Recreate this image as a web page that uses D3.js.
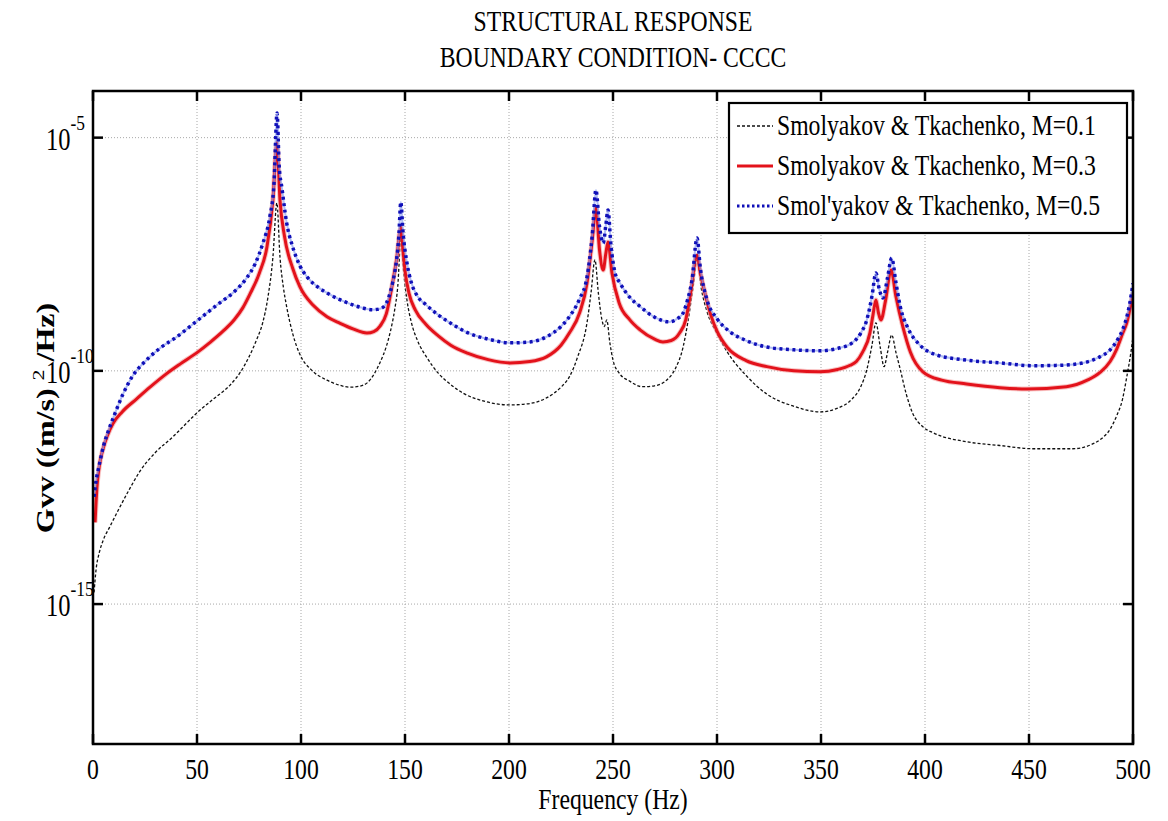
<html>
<head>
<style>
    body { margin: 0; background: #ffffff; }
    svg { display: block; }
    text { font-family: "Liberation Serif", "Times New Roman", serif; fill: #000; }
</style>
<script src="https://cdn.jsdelivr.net/npm/d3@7"></script>
</head>
<body>
<svg id="grafico"></svg>
<script>
// frequency axis ticks (Hz) and the decades that carry a label
const frecuenciaTicks = [0, 50, 100, 150, 200, 250, 300, 350, 400, 450, 500];
const decadaTicks = [-5, -10, -15];

const titulo = ["STRUCTURAL RESPONSE", "BOUNDARY CONDITION- CCCC"];
const etiquetas = ["Smolyakov & Tkachenko, M=0.1", "Smolyakov & Tkachenko, M=0.3", "Smol'yakov & Tkachenko, M=0.5"];

// Gvv, stored as log10(Gvv), one pair [Hz, log10] per point
const log10GvvM01 = [
    [0.5, -14.75], [1.5, -14.25], [3, -13.9], [5, -13.62], [8, -13.35], [12, -13.0], [17, -12.58],
    [22.6, -12.15], [30, -11.75], [38.5, -11.41], [45, -11.12], [50, -10.9], [58, -10.6], [66, -10.3],
    [71, -10.02], [75, -9.7], [78.5, -9.35], [81.7, -8.95], [84, -8.45], [86.5, -7.56], [88.4, -6.4],
    [89.9, -7.56], [91.5, -8.2], [93, -8.6], [96, -9.2], [99.5, -9.65], [105, -9.98], [112.5, -10.2],
    [118, -10.3], [123.6, -10.35], [128, -10.33], [132, -10.25], [135, -10.08], [138, -9.82], [141, -9.48],
    [143, -9.15], [145, -8.7], [146.5, -8.2], [148, -7.2], [149.5, -7.95], [151, -8.5], [153, -8.95],
    [156, -9.35], [160.6, -9.72], [166, -10.05], [171.6, -10.28], [178, -10.48], [188, -10.65], [200.5, -10.73],
    [210, -10.7], [218, -10.58], [225, -10.35], [229, -10.13], [233, -9.7], [237.5, -8.97], [239.5, -8.3],
    [241.3, -7.62], [243, -8.35], [244.7, -8.91], [245.8, -9.05], [247, -8.91], [248.5, -9.4], [250, -9.77],
    [253, -10.05], [258, -10.22], [264, -10.34], [270, -10.32], [276, -10.19], [280, -9.95], [283.7, -9.49],
    [286, -8.95], [288.5, -8.2], [290.4, -7.62], [292.5, -8.25], [295, -8.7], [300, -9.2], [305, -9.6],
    [314, -10.1], [324, -10.5], [337, -10.76], [349.5, -10.88], [358, -10.8], [365, -10.6], [369, -10.35],
    [372, -9.98], [374.5, -9.45], [376.4, -8.97], [378.5, -9.5], [380.3, -9.91], [382, -9.6], [384, -9.23],
    [386, -9.6], [388, -9.95], [391, -10.5], [394, -10.9], [399, -11.2], [404, -11.33], [420, -11.52],
    [436, -11.6], [452, -11.67], [471, -11.67], [480, -11.58], [484, -11.48], [489, -11.25], [492, -10.98],
    [495, -10.6], [497, -10.13], [499, -9.6], [500, -9.27]
];

const log10GvvM03 = [
    [1, -13.25], [1.9, -12.5], [3, -12.05], [4.9, -11.66], [7, -11.38], [9.6, -11.13], [14, -10.88],
    [21, -10.6], [27.4, -10.35], [35.4, -10.06], [42, -9.85], [50, -9.61], [56, -9.4], [62.5, -9.15],
    [68, -8.9], [72, -8.65], [75.5, -8.35], [80, -7.9], [83.6, -7.35], [86.5, -6.34], [88.4, -5.11],
    [89.9, -6.34], [92, -7.1], [96, -7.8], [99.5, -8.2], [106, -8.6], [112.5, -8.84], [118.8, -8.98],
    [125, -9.1], [131.7, -9.19], [135, -9.16], [138, -9.04], [141, -8.78], [144, -8.12], [146, -7.6],
    [148, -6.92], [149, -7.4], [150, -7.85], [152, -8.35], [155, -8.7], [160, -9.0], [166, -9.25],
    [172, -9.45], [180, -9.62], [190, -9.76], [200.5, -9.83], [210, -9.8], [218, -9.7], [225, -9.45],
    [229, -9.19], [234, -8.75], [237.5, -8.12], [240, -7.2], [241.8, -6.51], [243.5, -7.4], [245.3, -7.84],
    [246.5, -7.5], [247.6, -7.24], [249.5, -7.9], [253, -8.55], [258, -8.9], [263, -9.12], [270, -9.32],
    [274, -9.38], [278, -9.35], [282, -9.19], [285, -8.9], [287, -8.42], [290.4, -7.52], [292, -7.9],
    [293.5, -8.2], [297, -8.8], [300, -9.15], [305, -9.5], [314, -9.78], [324, -9.91], [337, -10.0],
    [349.5, -10.02], [358, -9.97], [364, -9.88], [367, -9.8], [370, -9.6], [373.5, -9.19], [375, -8.8],
    [376.4, -8.48], [377.6, -8.75], [378.8, -8.91], [381, -8.5], [383.7, -7.84], [386, -8.4], [389.4, -9.06],
    [393, -9.6], [399, -10.02], [408, -10.2], [420, -10.28], [436, -10.36], [449, -10.39], [468, -10.34],
    [478, -10.2], [484, -10.04], [489, -9.8], [492, -9.55], [495, -9.2], [497, -8.97], [500, -8.33]
];

const log10GvvM05 = [
    [0.5, -12.7], [1.5, -12.35], [3, -12.02], [5, -11.62], [7.5, -11.27], [10.5, -10.92], [14.4, -10.5],
    [19.2, -10.1], [25, -9.8], [32, -9.52], [40, -9.28], [48, -9.0], [55, -8.75], [61, -8.54], [68, -8.3],
    [74, -8.0], [78, -7.7], [81.7, -7.26], [85, -6.7], [87, -6.0], [88.5, -4.47], [89.5, -5.6], [90.9, -6.1],
    [93, -6.8], [96, -7.34], [99.5, -7.75], [103, -7.99], [108, -8.2], [112.5, -8.33], [120, -8.5],
    [128, -8.63], [134.6, -8.69], [138, -8.67], [141, -8.55], [143, -8.3], [144, -8.12], [146, -7.6],
    [147, -7.13], [148, -6.38], [149, -7.0], [151, -7.7], [153, -8.1], [156, -8.4], [160, -8.58],
    [166, -8.8], [172, -8.98], [180, -9.18], [190, -9.32], [200.5, -9.4], [210, -9.38], [218, -9.27],
    [225, -9.05], [229, -8.84], [234, -8.45], [237.5, -7.99], [240, -7.1], [241.8, -6.12], [243.5, -6.9],
    [245.3, -7.26], [246.5, -6.9], [247.6, -6.55], [249, -7.3], [251, -7.9], [253.4, -8.12], [258, -8.42],
    [263, -8.62], [270, -8.85], [277, -8.95], [281, -8.88], [283.7, -8.76], [286, -8.45], [288, -8.05],
    [290.4, -7.15], [292, -7.8], [295, -8.45], [300, -8.88], [305, -9.12], [314, -9.35], [324, -9.49],
    [337, -9.55], [349.5, -9.57], [358, -9.52], [365, -9.4], [369, -9.2], [372, -8.91], [374.5, -8.4],
    [376.4, -7.9], [378, -8.25], [379.8, -8.44], [382, -8.0], [384, -7.58], [386, -8.1], [388, -8.6],
    [392, -9.1], [397.6, -9.45], [405, -9.65], [420, -9.77], [436, -9.83], [452, -9.89], [465, -9.88],
    [476, -9.83], [484, -9.7], [489, -9.55], [493, -9.3], [495, -9.12], [498.5, -8.54], [500, -8.12]
];

const ANCHO = 1168, ALTO = 821;
const SX = 0.79;   // the picture is squeezed sideways, text too

function configuracion() {
    let margenes = { top: 91, bottom: 77, left: 93, right: 35 };
    let contenedor = d3.select("#grafico").attr("width", ANCHO).attr("height", ALTO);
    let anchuraCuerpo = ANCHO - margenes.left - margenes.right;
    let alturaCuerpo = ALTO - margenes.top - margenes.bottom;
    return { margenes, contenedor, anchuraCuerpo, alturaCuerpo };
}

function escalas(conf) {
    let escalaX = d3.scaleLinear().domain([0, 500]).range([conf.margenes.left, conf.margenes.left + conf.anchuraCuerpo]);
    let escalaY = d3.scaleLog().domain([1e-18, 1e-4]).range([conf.margenes.top + conf.alturaCuerpo, conf.margenes.top]);
    return { escalaX, escalaY };
}

// text drawn through a sideways squeeze
function texto(g, x, y, cadena, anchor, size) {
    return g.append("g").attr("transform", `translate(${x},${y}) scale(${SX},1)`)
        .append("text").attr("text-anchor", anchor).style("font-size", size + "px").text(cadena);
}

function dibujarRejilla(conf, esc) {
    let { contenedor, margenes, anchuraCuerpo, alturaCuerpo } = conf;
    let g = contenedor.append("g").attr("stroke", "#a8a8a8").attr("stroke-width", 1).attr("stroke-dasharray", "1,2");
    g.selectAll(".gx").data(frecuenciaTicks.slice(1, -1)).enter().append("line")
        .attr("x1", d => esc.escalaX(d)).attr("x2", d => esc.escalaX(d))
        .attr("y1", margenes.top).attr("y2", margenes.top + alturaCuerpo);
    g.selectAll(".gy").data(decadaTicks).enter().append("line")
        .attr("x1", margenes.left).attr("x2", margenes.left + anchuraCuerpo)
        .attr("y1", d => esc.escalaY(Math.pow(10, d))).attr("y2", d => esc.escalaY(Math.pow(10, d)));
}

function dibujarCurvas(conf, esc) {
    let { contenedor, margenes, anchuraCuerpo, alturaCuerpo } = conf;
    contenedor.append("clipPath").attr("id", "recorte").append("rect")
        .attr("x", margenes.left).attr("y", margenes.top).attr("width", anchuraCuerpo).attr("height", alturaCuerpo);
    let linea = d3.line()
        .x(d => esc.escalaX(d[0]))
        .y(d => esc.escalaY(Math.pow(10, d[1])))
        .curve(d3.curveMonotoneX);
    let g = contenedor.append("g").attr("clip-path", "url(#recorte)").attr("fill", "none");

    g.append("path").attr("d", linea(log10GvvM01))
        .attr("stroke", "#111").attr("stroke-width", 1.3).attr("stroke-dasharray", "3,2");
    g.append("path").attr("d", linea(log10GvvM03))
        .attr("stroke", "#f39a9a").attr("stroke-width", 5).attr("opacity", 0.6);
    g.append("path").attr("d", linea(log10GvvM03))
        .attr("stroke", "#e3121b").attr("stroke-width", 3);
    g.append("path").attr("d", linea(log10GvvM05))
        .attr("stroke", "#8fa0f0").attr("stroke-width", 2).attr("opacity", 0.7);
    g.append("path").attr("d", linea(log10GvvM05))
        .attr("stroke", "#1010b8").attr("stroke-width", 3.5).attr("stroke-dasharray", "3,3.5");
}

function dibujarEjes(conf, esc) {
    let { contenedor, margenes, anchuraCuerpo, alturaCuerpo } = conf;
    let izq = margenes.left, der = izq + anchuraCuerpo, arriba = margenes.top, abajo = arriba + alturaCuerpo;
    let g = contenedor.append("g");
    let largo = 10;

    g.append("rect").attr("x", izq).attr("y", arriba).attr("width", anchuraCuerpo).attr("height", alturaCuerpo)
        .attr("fill", "none").attr("stroke", "#000").attr("stroke-width", 2.5);

    let marcas = g.append("g").attr("stroke", "#000").attr("stroke-width", 2.5);
    frecuenciaTicks.forEach(f => {
        let x = esc.escalaX(f);
        marcas.append("line").attr("x1", x).attr("x2", x).attr("y1", abajo).attr("y2", abajo - largo);
        marcas.append("line").attr("x1", x).attr("x2", x).attr("y1", arriba).attr("y2", arriba + largo);
        texto(g, x, 779, String(f), "middle", 30);
    });
    decadaTicks.forEach(e => {
        let y = esc.escalaY(Math.pow(10, e));
        marcas.append("line").attr("x1", izq).attr("x2", izq + largo).attr("y1", y).attr("y2", y);
        marcas.append("line").attr("x1", der).attr("x2", der - largo).attr("y1", y).attr("y2", y);
        let t = texto(g, 46, y + 12, "", "start", 31);
        t.append("tspan").text("10");
        t.append("tspan").attr("dy", -20).style("font-size", "22px").text(String(e));
    });

    // axis titles
    texto(g, (izq + der) / 2, 809, "Frequency (Hz)", "middle", 30);
    let ylab = g.append("g").attr("transform", `translate(54,418) scale(${SX},1)`)
        .append("text").attr("transform", "rotate(-90)").attr("text-anchor", "middle")
        .style("font-size", "32px").style("font-weight", "bold").style("white-space", "pre");
    ylab.append("tspan").text("Gvv ((m/s) ");
    ylab.append("tspan").attr("dy", -13).style("font-size", "22px").style("font-weight", "normal").text("2");
    ylab.append("tspan").attr("dy", 13).text(" /Hz)");

    texto(g, (izq + der) / 2, 31, titulo[0], "middle", 30);
    texto(g, (izq + der) / 2, 67, titulo[1], "middle", 30);
}

function dibujarLeyenda(conf) {
    let g = conf.contenedor.append("g");
    g.append("rect").attr("x", 729).attr("y", 103).attr("width", 398).attr("height", 130)
        .attr("fill", "#fff").attr("stroke", "#000").attr("stroke-width", 2.2);
    let estilos = [
        { color: "#111", ancho: 1.3, guion: "3,2" },
        { color: "#e3121b", ancho: 3, guion: null },
        { color: "#1010b8", ancho: 3, guion: "2.5,2.5" }
    ];
    etiquetas.forEach((et, i) => {
        let base = 135 + i * 40;
        g.append("line").attr("x1", 737).attr("x2", 773).attr("y1", base - 9).attr("y2", base - 9)
            .attr("stroke", estilos[i].color).attr("stroke-width", estilos[i].ancho)
            .attr("stroke-dasharray", estilos[i].guion);
        texto(g, 777, base, et, "start", 30);
    });
}

let conf = configuracion();
let esc = escalas(conf);
dibujarRejilla(conf, esc);
dibujarCurvas(conf, esc);
dibujarEjes(conf, esc);
dibujarLeyenda(conf);
</script>
</body>
</html>
